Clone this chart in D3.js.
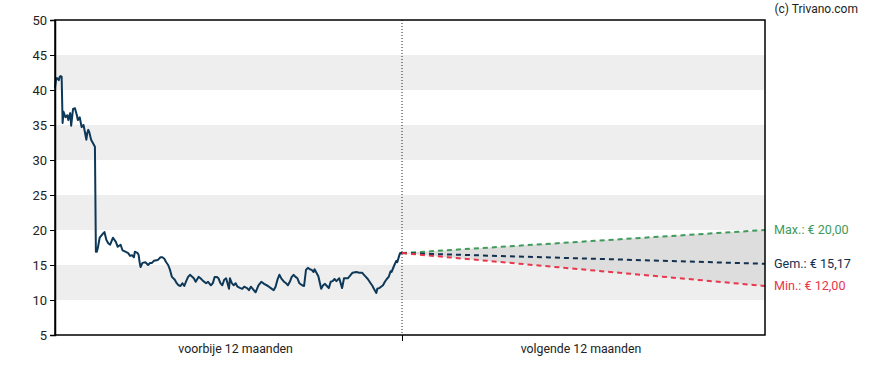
<!DOCTYPE html>
<html>
<head>
<meta charset="utf-8">
<script src="https://cdnjs.cloudflare.com/ajax/libs/d3/7.8.5/d3.min.js"></script>
<style>
  body { margin: 0; background: #fff; }
  text { font-family: Roboto, "Noto Sans", sans-serif; }
</style>
</head>
<body>
<div id="drawChart"></div>
<script>
// days since start of the past 12 months
var days = [0,1,2,3,4,5,6,7,8,9,11,13,14,16,17,19,21,23,24,26,28,30,33,34,35,36,38,40,42,43,44,45,47,50,52,54,56,58,61,64,66,69,71,74,77,79,81,83,84,87,88,89,90,92,95,98,100,102,104,108,111,113,115,117,119,121,123,126,128,130,132,134,136,138,140,142,146,148,151,153,156,159,161,164,166,168,170,172,174,176,178,180,183,184,186,188,190,192,195,197,199,202,204,206,208,211,214,217,220,224,227,230,232,234,236,238,241,243,245,247,249,251,253,255,257,260,262,264,266,268,270,272,273,275,277,280,282,284,286,288,290,292,294,296,299,302,304,306,308,310,313,317,320,323,325,327,329,332,334,335,338,339,341,343,345,347,349,351,353,354,357,359,360,362,363,365];
var prices = [40.3,41.4,41.7,41.6,41.4,41.9,42.0,41.9,35.3,36.9,36.1,36.4,35.7,36.7,34.9,37.3,37.4,36.4,35.7,36.1,34.7,35.0,32.9,33.9,34.3,34.0,32.9,32.4,31.9,16.9,16.9,17.4,18.9,19.4,19.7,18.6,18.1,17.9,18.9,18.3,17.6,17.9,17.1,16.9,16.7,16.3,16.4,16.1,16.9,16.7,16.4,15.4,14.7,15.3,15.4,15.0,15.3,15.3,15.6,15.7,16.1,16.1,15.9,15.4,15.0,14.3,13.3,12.9,12.4,12.1,12.0,12.4,12.0,12.7,13.3,13.6,13.1,12.6,13.3,13.1,12.7,12.4,12.6,12.1,12.4,13.3,13.3,13.1,12.4,12.1,12.9,13.1,11.6,13.1,12.4,12.1,12.4,11.9,11.7,11.6,11.9,11.7,11.4,11.9,11.6,11.1,12.1,12.6,12.3,12.0,11.7,11.4,11.9,12.9,13.6,13.1,12.6,12.4,12.1,12.6,13.3,13.6,13.3,13.1,12.4,12.1,12.0,14.3,14.6,14.4,14.3,14.0,14.4,13.9,13.4,11.6,12.1,12.3,12.0,11.7,12.6,12.7,13.0,12.7,13.1,11.7,13.1,13.1,13.1,13.4,13.9,14.0,13.9,13.9,13.6,13.3,13.0,12.4,12.0,11.7,11.0,11.6,11.7,11.9,12.1,12.6,13.0,13.3,14.1,14.0,15.0,15.6,15.4,16.3,16.7,16.7];

// forecast for the next 12 months
var forecastNames = ["Max.", "Gem.", "Min."];
var forecastValues = [20.00, 15.17, 12.00];
var forecastColors = ["#3f9a5c", "#12304f", "#e8364b"];

var yTicks = [5, 10, 15, 20, 25, 30, 35, 40, 45, 50];
var bands = [[10, 15], [20, 25], [30, 35], [40, 45]];
var periodLabels = ["voorbije 12 maanden", "volgende 12 maanden"];
var periodCenters = [190, 545];   // day position of each period label

var width = 888, height = 370;
var plotLeft = 55, plotRight = 765, plotTop = 20, plotBottom = 335;

var svg = d3.select("#drawChart")
  .append("svg")
  .attr("width", width)
  .attr("height", height);

var x = d3.scaleLinear().domain([0, 365, 730]).range([plotLeft, 402, plotRight]);
var y = d3.scaleLinear().domain([5, 50]).range([plotBottom, plotTop]);

// grey bands
svg.selectAll("rect.band").data(bands).enter()
  .append("rect")
  .attr("class", "band")
  .attr("x", plotLeft)
  .attr("width", plotRight - plotLeft)
  .attr("y", function(d) { return y(d[1]); })
  .attr("height", function(d) { return y(d[0]) - y(d[1]); })
  .attr("fill", "#eeeeee");

// forecast cone
var last = prices[prices.length - 1];
var cone = [
  [365, last, last],
  [730, forecastValues[2], forecastValues[0]]
];
svg.append("path")
  .datum(cone)
  .attr("d", d3.area()
    .x(function(d) { return x(d[0]); })
    .y0(function(d) { return y(d[1]); })
    .y1(function(d) { return y(d[2]); }))
  .attr("fill", "#dddddd");

// dotted divider
svg.append("line")
  .attr("x1", x(365)).attr("x2", x(365))
  .attr("y1", plotTop).attr("y2", plotBottom)
  .attr("stroke", "#222")
  .attr("stroke-width", 1)
  .attr("stroke-dasharray", "1,2");

// price line
var series = days.map(function(d, i) { return [d, prices[i]]; });
svg.append("path")
  .datum(series)
  .attr("d", d3.line()
    .x(function(d) { return x(d[0]); })
    .y(function(d) { return y(d[1]); }))
  .attr("fill", "none")
  .attr("stroke", "#0d3858")
  .attr("stroke-width", 2)
  .attr("stroke-linejoin", "round");

// forecast lines + labels
forecastValues.forEach(function(v, i) {
  svg.append("line")
    .attr("x1", x(365)).attr("y1", y(last))
    .attr("x2", x(730)).attr("y2", y(v))
    .attr("stroke", forecastColors[i])
    .attr("stroke-width", 2)
    .attr("stroke-dasharray", "5,4");
  svg.append("text")
    .attr("x", plotRight + 9)
    .attr("y", y(v))
    .attr("dy", "0.35em")
    .attr("font-size", "12.6px")
    .attr("fill", forecastColors[i])
    .text(forecastNames[i] + ": € " + v.toFixed(2).replace(".", ","));
});

// frame
svg.append("rect")
  .attr("x", plotLeft).attr("y", plotTop)
  .attr("width", plotRight - plotLeft).attr("height", plotBottom - plotTop)
  .attr("fill", "none")
  .attr("stroke", "#000")
  .attr("stroke-width", 1.5);

// y axis
var yAxis = svg.append("g")
  .attr("transform", "translate(" + plotLeft + ",0)")
  .call(d3.axisLeft(y).tickValues(yTicks).tickSize(5).tickPadding(3));
yAxis.select(".domain").attr("stroke-width", 1.5);
yAxis.selectAll("text").attr("font-size", "13px").attr("fill", "#222").style("font-family", "Roboto, sans-serif");

// x axis: tick at divider, labels per period
var xAxis = svg.append("g")
  .attr("transform", "translate(0," + plotBottom + ")")
  .call(d3.axisBottom(x).tickValues([365]).tickSize(6).tickFormat(""));
xAxis.select(".domain").remove();

svg.selectAll("text.period").data(periodLabels).enter()
  .append("text")
  .attr("class", "period")
  .attr("x", function(d, i) { return x(periodCenters[i]); })
  .attr("y", 353)
  .attr("text-anchor", "middle")
  .attr("font-size", "12.3px")
  .attr("fill", "#222")
  .text(function(d) { return d; });

svg.append("text")
  .attr("x", 858)
  .attr("y", 13)
  .attr("text-anchor", "end")
  .attr("font-size", "12px")
  .attr("fill", "#222")
  .text("(c) Trivano.com");
</script>
</body>
</html>
